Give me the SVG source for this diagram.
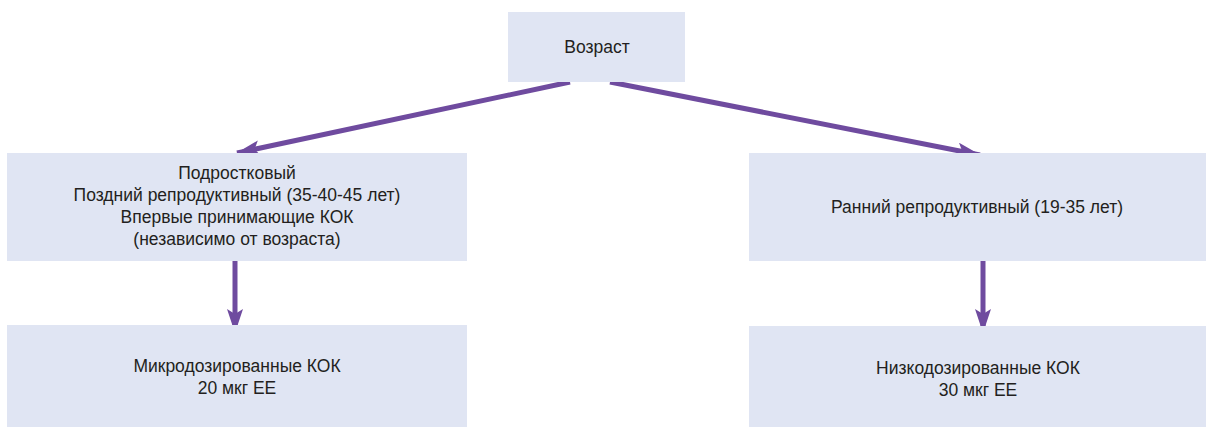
<svg xmlns="http://www.w3.org/2000/svg" width="1208" height="429" viewBox="0 0 1208 429">
<defs>
<style>
.box{fill:#e0e5f3;}
.t{font-family:"Liberation Sans",Arial,sans-serif;font-size:17.5px;fill:#231f20;text-anchor:middle;}
.c{stroke:#6f4b9f;stroke-width:5;fill:none;}
</style>
<marker id="ah" viewBox="0 0 24 16" refX="23" refY="8" markerWidth="24" markerHeight="16" markerUnits="userSpaceOnUse" orient="auto">
<path d="M0,0 L24,8 L0,16 L5,8 Z" fill="#6f4b9f"/>
</marker>
</defs>
<rect width="1208" height="429" fill="#ffffff"/>
<g id="connectors">
<line class="c" x1="570" y1="82" x2="237" y2="153" marker-end="url(#ah)"/>
<line class="c" x1="610" y1="82" x2="980" y2="155" marker-end="url(#ah)"/>
<line class="c" x1="235" y1="261" x2="235" y2="332" marker-end="url(#ah)"/>
<line class="c" x1="983" y1="261" x2="983" y2="332" marker-end="url(#ah)"/>
</g>
<g id="node-age">
<rect class="box" x="508" y="12" width="177" height="70"/>
<text class="t" x="597" y="53">Возраст</text>
</g>
<g id="node-teen">
<rect class="box" x="7" y="153" width="460" height="108"/>
<text class="t" x="237" y="179">Подростковый</text>
<text class="t" x="237" y="201">Поздний репродуктивный (35-40-45 лет)</text>
<text class="t" x="237" y="223">Впервые принимающие КОК</text>
<text class="t" x="237" y="245">(независимо от возраста)</text>
</g>
<g id="node-early">
<rect class="box" x="749" y="153" width="457" height="108"/>
<text class="t" x="977" y="213">Ранний репродуктивный (19-35 лет)</text>
</g>
<g id="node-micro">
<rect class="box" x="7" y="325" width="460" height="102"/>
<text class="t" x="237" y="372">Микродозированные КОК</text>
<text class="t" x="237" y="394">20 мкг ЕЕ</text>
</g>
<g id="node-low">
<rect class="box" x="749" y="326" width="457" height="101"/>
<text class="t" x="978" y="374">Низкодозированные КОК</text>
<text class="t" x="978" y="396">30 мкг ЕЕ</text>
</g>
</svg>
